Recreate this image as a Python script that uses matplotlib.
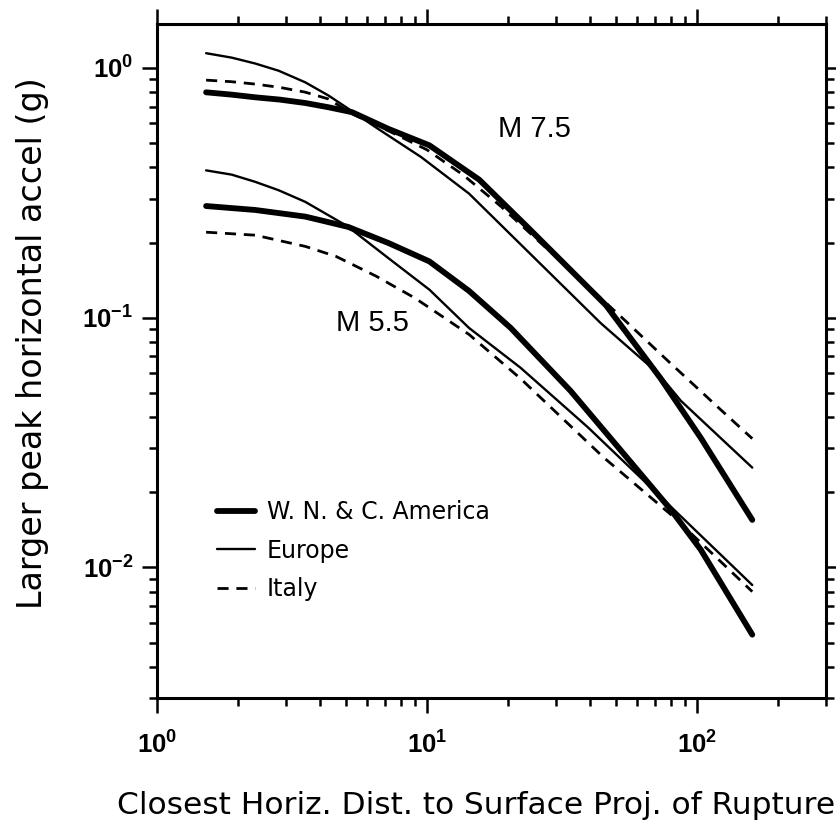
import matplotlib
matplotlib.use('Agg')
import matplotlib.pyplot as plt
from matplotlib.ticker import FixedLocator, FixedFormatter, LogLocator, NullFormatter

plt.rcParams['font.family'] = ['Liberation Sans', 'DejaVu Sans']
plt.rcParams['mathtext.fontset'] = 'custom'
plt.rcParams['mathtext.rm'] = 'Liberation Sans'
plt.rcParams['mathtext.bf'] = 'Liberation Sans:bold'

# ---------------- data ----------------
wna_m75_dist = [1.52, 1.89, 2.31, 2.85, 3.54, 4.32, 5.28, 7.2, 10.2, 15.6, 23.9, 46, 73, 103, 160]
wna_m75_pga = [0.799, 0.782, 0.763, 0.747, 0.724, 0.696, 0.665, 0.570, 0.490, 0.357, 0.227, 0.112, 0.0574, 0.0331, 0.0155]

eur_m75_dist = [1.52, 1.89, 2.31, 2.82, 3.54, 4.32, 5.28, 6.45, 9.5, 14.3, 39, 44, 72, 87, 160]
eur_m75_pga = [1.146, 1.10, 1.042, 0.975, 0.876, 0.775, 0.671, 0.579, 0.44, 0.314, 0.108, 0.095, 0.0596, 0.0465, 0.0251]

ita_m75_dist = [1.52, 1.89, 2.31, 2.85, 3.54, 4.32, 5.28, 7.2, 10.0, 13.6, 18.7, 52, 78, 120, 160]
ita_m75_pga = [0.894, 0.881, 0.862, 0.836, 0.80, 0.751, 0.655, 0.56, 0.47, 0.373, 0.28, 0.1014, 0.0671, 0.0436, 0.0328]

wna_m55_dist = [1.52, 2.31, 3.54, 4.07, 5.1, 7.2, 10.2, 14.3, 20.4, 34, 55, 80, 103, 160]
wna_m55_pga = [0.280, 0.270, 0.254, 0.245, 0.231, 0.199, 0.168, 0.128, 0.091, 0.0509, 0.0275, 0.0170, 0.0118, 0.00538]

eur_m55_dist = [1.52, 1.89, 2.31, 2.82, 3.54, 5.05, 7.2, 10.2, 14.3, 22.2, 39.4, 69, 160]
eur_m55_pga = [0.389, 0.374, 0.350, 0.324, 0.291, 0.233, 0.173, 0.1295, 0.091, 0.063, 0.0364, 0.0204, 0.0085]

ita_m55_dist = [1.52, 2.31, 3.54, 4.6, 6.45, 9.0, 14.3, 22.2, 45, 82, 160]
ita_m55_pga = [0.220, 0.214, 0.193, 0.176, 0.147, 0.120, 0.0857, 0.057, 0.0276, 0.0159, 0.0080]

legend_labels = ['W. N. & C. America', 'Europe', 'Italy']
magnitude_labels = ['M 7.5', 'M 5.5']
x_major = [1, 10, 100]
x_major_labels = [r'$\mathbf{10^{0}}$', r'$\mathbf{10^{1}}$', r'$\mathbf{10^{2}}$']
y_major = [0.01, 0.1, 1]
y_major_labels = [r'$\mathbf{10^{-2}}$', r'$\mathbf{10^{-1}}$', r'$\mathbf{10^{0}}$']

# ---------------- figure ----------------
W, H = 837, 826
fig = plt.figure(figsize=(W / 100, H / 100), dpi=100)
L, R, T, B = 157, 826, 24, 698
ax = fig.add_axes([L / W, (H - B) / H, (R - L) / W, (B - T) / H])

thick = dict(color='black', lw=4.2, solid_capstyle='round', solid_joinstyle='round')
thin = dict(color='black', lw=1.7, solid_capstyle='round', solid_joinstyle='round')
dash = dict(color='black', lw=2.0, dashes=(4.0, 2.8))

ax.plot(wna_m75_dist, wna_m75_pga, label=legend_labels[0], **thick)
ax.plot(eur_m75_dist, eur_m75_pga, label=legend_labels[1], **thin)
ax.plot(ita_m75_dist, ita_m75_pga, label=legend_labels[2], **dash)
ax.plot(wna_m55_dist, wna_m55_pga, **thick)
ax.plot(eur_m55_dist, eur_m55_pga, **thin)
ax.plot(ita_m55_dist, ita_m55_pga, **dash)

ax.set_xscale('log')
ax.set_yscale('log')
ax.set_xlim(1, 300)
ax.set_ylim(0.003, 1.5)

ax.xaxis.set_major_locator(FixedLocator(x_major))
ax.xaxis.set_major_formatter(FixedFormatter(x_major_labels))
ax.xaxis.set_minor_locator(LogLocator(base=10, subs=range(2, 10), numticks=20))
ax.xaxis.set_minor_formatter(NullFormatter())
ax.yaxis.set_major_locator(FixedLocator(y_major))
ax.yaxis.set_major_formatter(FixedFormatter(y_major_labels))
ax.yaxis.set_minor_locator(LogLocator(base=10, subs=range(2, 10), numticks=20))
ax.yaxis.set_minor_formatter(NullFormatter())

ax.tick_params(which='both', direction='out', top=True, right=True,
               labeltop=False, labelright=False, width=1.8, colors='black')
ax.tick_params(which='major', length=11, labelsize=18.5)
ax.tick_params(axis='x', which='major', pad=13)
ax.tick_params(axis='y', which='major', pad=6)
ax.tick_params(which='minor', length=6)
for s in ax.spines.values():
    s.set_linewidth(2.2)

wide = ['DejaVu Sans']
ax.set_xlabel('Closest Horiz. Dist. to Surface Proj. of Rupture', fontsize=22.5, family=wide)
ax.xaxis.label.set_horizontalalignment('left')
ax.xaxis.label.set_verticalalignment('center')
ax.xaxis.set_label_coords((117 - L) / (R - L), (B - 805) / (B - T))

ax.set_ylabel('Larger peak horizontal accel (g)', fontsize=24, family=wide)
ax.yaxis.label.set_verticalalignment('center')
ax.yaxis.set_label_coords((33 - L) / (R - L), (B - 343) / (B - T))

ax.text(25.0, 0.569, magnitude_labels[0], fontsize=21, ha='center', va='center')
ax.text(6.3, 0.095, magnitude_labels[1], fontsize=21, ha='center', va='center')

leg = ax.legend(loc='upper left', bbox_to_anchor=((217 - L) / (R - L), (B - 500) / (B - T)),
                frameon=False, prop={'family': wide, 'size': 17}, handlelength=1.6,
                handletextpad=0.5, labelspacing=0.62, borderpad=0, borderaxespad=0)

fig.savefig('out.png', dpi=100)
